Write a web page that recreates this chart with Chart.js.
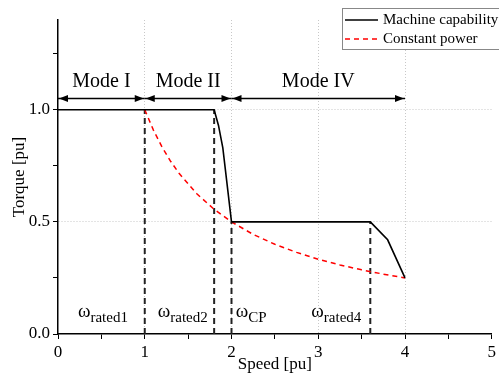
<!DOCTYPE html>
<html>
<head>
<meta charset="utf-8">
<script src="https://cdn.jsdelivr.net/npm/chart.js@4/dist/chart.umd.min.js"></script>
<style>
  html, body { margin: 0; padding: 0; background: #fff; }
  #wrap { width: 499px; height: 375px; }
</style>
</head>
<body>
<div id="wrap"><canvas id="myChart"></canvas></div>
<script>
const serif = "'Liberation Serif', 'Times New Roman', serif";

// machine capability curve
const capX = [0, 1.8, 1.85, 1.9, 2, 3.6, 3.8, 4];
const capY = [1, 1, 0.93, 0.83, 0.5, 0.5, 0.42, 0.25];

// constant power curve (T = 1/w)
const powerX = [1, 1.1, 1.2, 1.3, 1.4, 1.6, 1.8, 2, 2.25, 2.5, 2.75, 3, 3.25, 3.5, 3.75, 4];
const powerY = [1, 0.909, 0.833, 0.769, 0.714, 0.625, 0.556, 0.5, 0.444, 0.4, 0.364, 0.333, 0.308, 0.286, 0.267, 0.25];

// rated speed markers
const markerX = [1, 1.8, 2, 3.6];
const markerTop = [1, 1, 0.5, 0.5];
const markerSubs = ['rated1', 'rated2', 'CP', 'rated4'];
const markerLabelX = [0.23, 1.15, 2.05, 2.92];
const markerLabelY = 0.075;

// operating modes
const modeLabels = ['Mode I', 'Mode II', 'Mode IV'];
const modeStart = [0, 1, 2];
const modeEnd = [1, 2, 4];
const modeY = 1.05;

const legendNames = ['Machine capability', 'Constant power'];

const toPts = (xs, ys) => xs.map((x, i) => ({x: x, y: ys[i]}));

const datasets = [
    {
        label: legendNames[0],
        data: toPts(capX, capY),
        borderColor: '#000',
        borderWidth: 1.6,
        pointRadius: 0
    },
    {
        label: legendNames[1],
        data: toPts(powerX, powerY),
        borderColor: '#ff0000',
        borderWidth: 1.5,
        borderDash: [5, 4],
        pointRadius: 0
    }
];

markerX.forEach((x, i) => {
    datasets.push({
        label: 'marker' + i,
        data: [{x: x, y: 0}, {x: x, y: markerTop[i]}],
        borderColor: '#222',
        borderWidth: 2,
        borderDash: [6, 4],
        pointRadius: 0
    });
});

modeLabels.forEach((m, i) => {
    datasets.push({
        label: 'mode' + i,
        data: [{x: modeStart[i], y: modeY}, {x: modeEnd[i], y: modeY}],
        borderColor: '#000',
        borderWidth: 1.3,
        pointRadius: 0
    });
});

const isInt = v => Math.abs(v - Math.round(v)) < 1e-9;
const isHalf = v => Math.abs(v * 2 - Math.round(v * 2)) < 1e-9;

const annotations = {
    id: 'annotations',
    afterDatasetsDraw(chart) {
        const ctx = chart.ctx;
        const xs = chart.scales.x, ys = chart.scales.y;
        ctx.save();

        // arrow heads + mode names
        ctx.fillStyle = '#000';
        const head = (px, py, dir) => {
            ctx.beginPath();
            ctx.moveTo(px, py);
            ctx.lineTo(px - dir * 9, py - 3.5);
            ctx.lineTo(px - dir * 9, py + 3.5);
            ctx.closePath();
            ctx.fill();
        };
        modeLabels.forEach((m, i) => {
            const py = ys.getPixelForValue(modeY);
            const a = xs.getPixelForValue(modeStart[i]);
            const b = xs.getPixelForValue(modeEnd[i]);
            head(a + 1, py, -1);
            head(b - 1, py, 1);
            ctx.font = '20px ' + serif;
            ctx.textAlign = 'center';
            ctx.textBaseline = 'alphabetic';
            ctx.fillText(m, (a + b) / 2, py - 12);
        });

        // omega labels
        markerSubs.forEach((s, i) => {
            let px = xs.getPixelForValue(markerLabelX[i]);
            const py = ys.getPixelForValue(markerLabelY);
            ctx.textAlign = 'left';
            ctx.font = '19px ' + serif;
            ctx.fillText('\u03c9', px, py);
            px += ctx.measureText('\u03c9').width;
            ctx.font = '15px ' + serif;
            ctx.fillText(s, px, py + 5);
        });

        // legend box
        ctx.strokeStyle = '#888';
        ctx.lineWidth = 1;
        ctx.fillStyle = '#fff';
        ctx.fillRect(342.5, 8.5, 170, 41);
        ctx.strokeRect(342.5, 8.5, 170, 41);
        const rows = [20, 39];
        [0, 1].forEach(i => {
            const ds = chart.data.datasets[i];
            ctx.beginPath();
            ctx.strokeStyle = ds.borderColor;
            ctx.lineWidth = ds.borderWidth;
            ctx.setLineDash(ds.borderDash || []);
            ctx.moveTo(345, rows[i]);
            ctx.lineTo(378, rows[i]);
            ctx.stroke();
            ctx.setLineDash([]);
            ctx.fillStyle = '#000';
            ctx.font = '15px ' + serif;
            ctx.textAlign = 'left';
            ctx.textBaseline = 'middle';
            ctx.fillText(legendNames[i], 383, rows[i]);
        });
        ctx.restore();
    }
};

const ctx = document.getElementById('myChart').getContext('2d');
const myChart = new Chart(ctx, {
    type: 'line',
    data: {datasets: datasets},
    plugins: [annotations],
    options: {
        responsive: true,
        maintainAspectRatio: false,
        animation: false,
        layout: {padding: {top: 20, right: 6, left: 0, bottom: 0}},
        plugins: {
            legend: {display: false},
            tooltip: {enabled: false}
        },
        scales: {
            x: {
                type: 'linear',
                min: 0,
                max: 5,
                afterFit: s => { s.height = 41; },
                ticks: {
                    stepSize: 0.5,
                    autoSkip: false,
                    maxRotation: 0,
                    padding: 3,
                    color: '#000',
                    font: {family: serif, size: 17},
                    callback: v => isInt(v) ? String(v) : ''
                },
                grid: {
                    color: c => (c.tick && isInt(c.tick.value) && c.tick.value > 0 && c.tick.value < 5) ? '#c8c8c8' : 'rgba(0,0,0,0)',
                    tickColor: '#000',
                    tickLength: 5,
                    lineWidth: 1
                },
                border: {display: true, color: '#000', width: 1.5, dash: [1, 2]},
                title: {
                    display: true,
                    text: 'Speed [pu]',
                    color: '#000',
                    font: {family: serif, size: 17},
                    padding: {top: 0, bottom: 0}
                }
            },
            y: {
                min: 0,
                max: 1.4,
                afterFit: s => { s.width = 58; },
                ticks: {
                    stepSize: 0.25,
                    includeBounds: false,
                    padding: 3,
                    color: '#000',
                    font: {family: serif, size: 17},
                    callback: v => isHalf(v) ? v.toFixed(1) : ''
                },
                grid: {
                    color: c => (c.tick && isHalf(c.tick.value) && c.tick.value > 0) ? '#c8c8c8' : 'rgba(0,0,0,0)',
                    tickColor: '#000',
                    tickLength: 5,
                    lineWidth: 1
                },
                border: {display: true, color: '#000', width: 1.5, dash: [1, 2]},
                title: {
                    display: true,
                    text: 'Torque [pu]',
                    color: '#000',
                    font: {family: serif, size: 17},
                    padding: {top: 9, bottom: 0}
                }
            }
        }
    }
});
</script>
</body>
</html>
